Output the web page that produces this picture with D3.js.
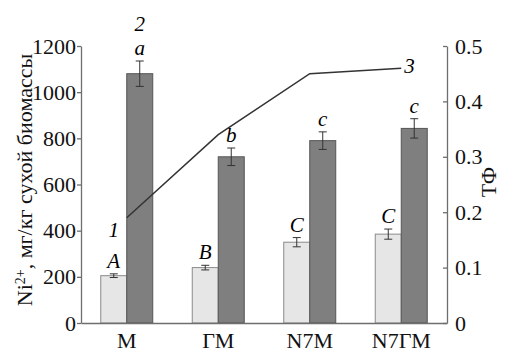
<!DOCTYPE html>
<html>
<head>
<meta charset="utf-8">
<script src="https://cdn.jsdelivr.net/npm/d3@7"></script>
<style>
  body { margin: 0; background: #fff; }
  text { font-family: "Liberation Serif", "DejaVu Serif", serif; }
</style>
</head>
<body>
<div id="chart"></div>
<script>
const categories = ["M", "ГМ", "N7M", "N7ГМ"];
const series = ["light", "dark"];
// series 1 (light bars), Ni2+ mg/kg
const lightValues = [205, 240, 350, 385];
const lightErrors = [8, 10, 20, 22];
const lightLetters = ["A", "B", "C", "C"];
// series 2 (dark bars)
const darkValues = [1080, 720, 790, 843];
const darkErrors = [55, 38, 38, 42];
const darkLetters = ["a", "b", "c", "c"];
// series 3 (line), TF on right axis
const tfValues = [0.19, 0.34, 0.45, 0.46];
const leftTicks = [0, 200, 400, 600, 800, 1000, 1200];
const rightTicks = [0, 0.1, 0.2, 0.3, 0.4, 0.5];

let width = 510, height = 354;
let margin = { top: 46, bottom: 31, left: 81, right: 63 };
const fontSize = 22;
const labelSize = 21;

let svg = d3.select("#chart")
  .append("svg")
  .attr("width", width)
  .attr("height", height);

let x0 = d3.scaleBand()
  .domain(categories)
  .range([margin.left, width - margin.right])
  .padding(0);

let x1 = d3.scaleBand()
  .domain(series)
  .range([0, x0.bandwidth()])
  .paddingInner(0)
  .paddingOuter(0.76);

let yL = d3.scaleLinear()
  .domain([0, 1200])
  .range([height - margin.bottom, margin.top]);

let yR = d3.scaleLinear()
  .domain([0, 0.5])
  .range([height - margin.bottom, margin.top]);

const axisColor = "#6e6e6e";

// bars
const barData = [];
categories.forEach((c, i) => {
  barData.push({ cat: c, s: "light", v: lightValues[i], e: lightErrors[i], l: lightLetters[i] });
  barData.push({ cat: c, s: "dark", v: darkValues[i], e: darkErrors[i], l: darkLetters[i] });
});

svg.selectAll("rect.bar")
  .data(barData)
  .join("rect")
  .attr("class", "bar")
  .attr("x", d => x0(d.cat) + x1(d.s))
  .attr("y", d => yL(d.v))
  .attr("width", x1.bandwidth())
  .attr("height", d => yL(0) - yL(d.v))
  .attr("fill", d => d.s === "light" ? "#e6e6e6" : "#7f7f7f")
  .attr("stroke", d => d.s === "light" ? "#8a8a8a" : "#555")
  .attr("stroke-width", 1);

// error bars
barData.forEach(d => {
  let cx = x0(d.cat) + x1(d.s) + x1.bandwidth() / 2;
  let g = svg.append("g").attr("stroke", "#333").attr("stroke-width", 1);
  g.append("line")
    .attr("x1", cx).attr("x2", cx)
    .attr("y1", yL(d.v + d.e)).attr("y2", yL(d.v - d.e));
  g.append("line")
    .attr("x1", cx - 4).attr("x2", cx + 4)
    .attr("y1", yL(d.v + d.e)).attr("y2", yL(d.v + d.e));
  g.append("line")
    .attr("x1", cx - 4).attr("x2", cx + 4)
    .attr("y1", yL(d.v - d.e)).attr("y2", yL(d.v - d.e));

  svg.append("text")
    .attr("x", cx)
    .attr("y", yL(d.v + d.e) - 6)
    .attr("text-anchor", "middle")
    .attr("font-size", labelSize)
    .attr("font-style", "italic")
    .text(d.l);
});

// TF line
let line = d3.line()
  .x((d, i) => x0(categories[i]) + x0.bandwidth() / 2)
  .y(d => yR(d));

svg.append("path")
  .datum(tfValues)
  .attr("d", line)
  .attr("fill", "none")
  .attr("stroke", "#333")
  .attr("stroke-width", 1.5);

// axes
let yaxisL = svg.append("g")
  .attr("transform", `translate(${margin.left},0)`)
  .call(d3.axisLeft(yL).tickValues(leftTicks).tickSize(4).tickPadding(1).tickSizeOuter(0)
    .tickFormat(d3.format("d")));

let yaxisR = svg.append("g")
  .attr("transform", `translate(${width - margin.right},0)`)
  .call(d3.axisRight(yR).tickValues(rightTicks).tickSizeInner(-4).tickSizeOuter(0).tickPadding(8)
    .tickFormat(d => d === 0 ? "0" : d3.format(".1f")(d)));

let xaxis = svg.append("g")
  .attr("transform", `translate(0,${height - margin.bottom})`)
  .call(d3.axisBottom(x0).tickSize(0).tickPadding(10));

[yaxisL, yaxisR, xaxis].forEach(a => {
  a.selectAll("path, line").attr("stroke", axisColor).attr("stroke-width", 1.3);
  a.selectAll("text")
    .attr("fill", "#111")
    .style("font-family", "'Liberation Serif', serif")
    .style("font-size", fontSize + "px");
});
xaxis.selectAll("text").attr("dy", "0.71em").attr("y", 9);

// series numbers
const first = { x: x0(categories[0]) + x0.bandwidth() / 2, y: yR(tfValues[0]) };
svg.append("text")
  .attr("x", first.x - 13).attr("y", first.y + 19)
  .attr("text-anchor", "middle").attr("font-size", labelSize).attr("font-style", "italic")
  .text("1");

svg.append("text")
  .attr("x", x0(categories[0]) + x1("dark") + x1.bandwidth() / 2)
  .attr("y", yL(darkValues[0] + darkErrors[0]) - 30)
  .attr("text-anchor", "middle").attr("font-size", labelSize).attr("font-style", "italic")
  .text("2");

const last = { x: x0(categories[3]) + x0.bandwidth() / 2, y: yR(tfValues[3]) };
svg.append("text")
  .attr("x", last.x + 3).attr("y", last.y + 5)
  .attr("font-size", labelSize).attr("font-style", "italic")
  .text("3");

// axis titles
let ytitle = svg.append("text")
  .attr("transform", "translate(32,180) rotate(-90)")
  .attr("text-anchor", "middle")
  .attr("font-size", fontSize)
  .attr("fill", "#111");
ytitle.append("tspan").text("Ni");
ytitle.append("tspan").attr("baseline-shift", "super").attr("font-size", 14).text("2+");
ytitle.append("tspan").text(", мг/кг сухой биомассы");

svg.append("text")
  .attr("transform", "translate(496,182) rotate(-90)")
  .attr("text-anchor", "middle")
  .attr("font-size", fontSize)
  .attr("fill", "#111")
  .text("ТФ");
</script>
</body>
</html>
